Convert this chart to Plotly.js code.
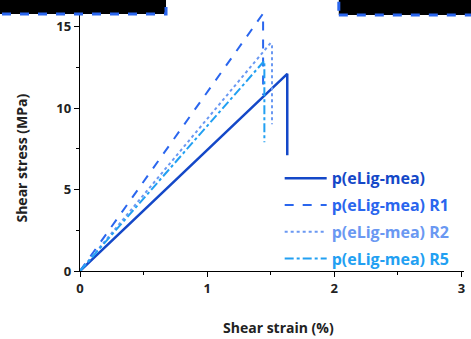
<!DOCTYPE html>
<html><head><meta charset="utf-8">
<script src="https://cdn.plot.ly/plotly-3.0.1.min.js"></script>
<style>body{margin:0;background:#fff}#chart{width:471px;height:339px}</style>
</head><body><div id="chart"></div>
<script>
const seriesNames = ["p(eLig-mea)", "p(eLig-mea) R1", "p(eLig-mea) R2", "p(eLig-mea) R5"];
const strainBase = [0, 1.63, 1.63];
const stressBase = [0, 12.1, 7.1];
const strainR1 = [0, 1.44, 1.44];
const stressR1 = [0, 15.8, 10.8];
const strainR2 = [0, 1.50, 1.51, 1.51];
const stressR2 = [0, 14.0, 13.8, 9.0];
const strainR5 = [0, 1.45, 1.45];
const stressR5 = [0, 12.9, 7.9];
const xTicks = [0, 1, 2, 3];
const yTicks = [0, 5, 10, 15];
const xTitle = "Shear strain (%)";
const yTitle = "Shear stress (MPa)";

const colors = ["#1448c8", "#2a66ee", "#6a98f2", "#22a0f2"];
const dashes = ["solid", "dash", "dot", "dashdot"];
const xs = [strainBase, strainR1, strainR2, strainR5];
const ys = [stressBase, stressR1, stressR2, stressR5];

const traces = xs.map((x, i) => ({
  x: x, y: ys[i], type: "scatter", mode: "lines",
  name: '<span style="color:' + colors[i] + '"><b>' + seriesNames[i] + '</b></span>',
  legendgroup: "g" + i,
  line: {color: colors[i], width: i === 0 ? 2.5 : 2, dash: dashes[i]},
  hoverinfo: "skip"
}));

const fontFam = "Open Sans, Lato, sans-serif";
const layout = {
  width: 471, height: 339,
  margin: {l: 80, r: 7, t: 0, b: 68},
  paper_bgcolor: "#fff", plot_bgcolor: "#fff",
  showlegend: true,
  legend: {x: 0.52, y: 0.405, xanchor: "left", yanchor: "top", bgcolor: "rgba(0,0,0,0)",
    font: {family: fontFam, size: 16}, traceorder: "grouped", tracegroupgap: 3, itemwidth: 42},
  xaxis: {
    range: [0, 3.02], tickvals: xTicks, ticktext: xTicks.map(String),
    showgrid: false, zeroline: false, showline: true, linecolor: "#000", linewidth: 1.3,
    ticks: "outside", ticklen: 5, tickcolor: "#000",
    minor: {tickvals: [0.5, 1.5, 2.5], ticks: "outside", ticklen: 3, tickcolor: "#000"},
    tickfont: {family: fontFam, size: 13, color: "#222", weight: "bold"}
  },
  yaxis: {
    range: [0, 16.63], tickvals: yTicks, ticktext: yTicks.map(String),
    showgrid: false, zeroline: false, showline: true, linecolor: "#000", linewidth: 1.3,
    ticks: "outside", ticklen: 5, tickcolor: "#000",
    minor: {tickvals: [2.5, 7.5, 12.5], ticks: "outside", ticklen: 3, tickcolor: "#000"},
    tickfont: {family: fontFam, size: 13, color: "#222", weight: "bold"}
  },
  annotations: [
    {text: "<b>" + xTitle + "</b>", xref: "paper", yref: "paper", x: 0.517, y: -0.207,
     xanchor: "center", yanchor: "middle", showarrow: false, font: {family: fontFam, size: 14, color: "#222"}},
    {text: "<b>" + yTitle + "</b>", xref: "paper", yref: "paper", x: -0.151, y: 0.415, textangle: -90,
     xanchor: "center", yanchor: "middle", showarrow: false, font: {family: fontFam, size: 14, color: "#222"}}
  ],
  shapes: [
    {type: "rect", xref: "paper", yref: "paper", x0: -0.25, x1: 0.224, y0: 0.948, y1: 1.05,
     fillcolor: "#000", line: {color: "#2a66ee", width: 3, dash: "dash"}, layer: "above"},
    {type: "rect", xref: "paper", yref: "paper", x0: 0.674, x1: 1.25, y0: 0.945, y1: 1.05,
     fillcolor: "#000", line: {color: "#2a66ee", width: 3, dash: "dash"}, layer: "above"}
  ]
};
Plotly.newPlot("chart", traces, layout, {displayModeBar: false, staticPlot: true});
</script></body></html>
